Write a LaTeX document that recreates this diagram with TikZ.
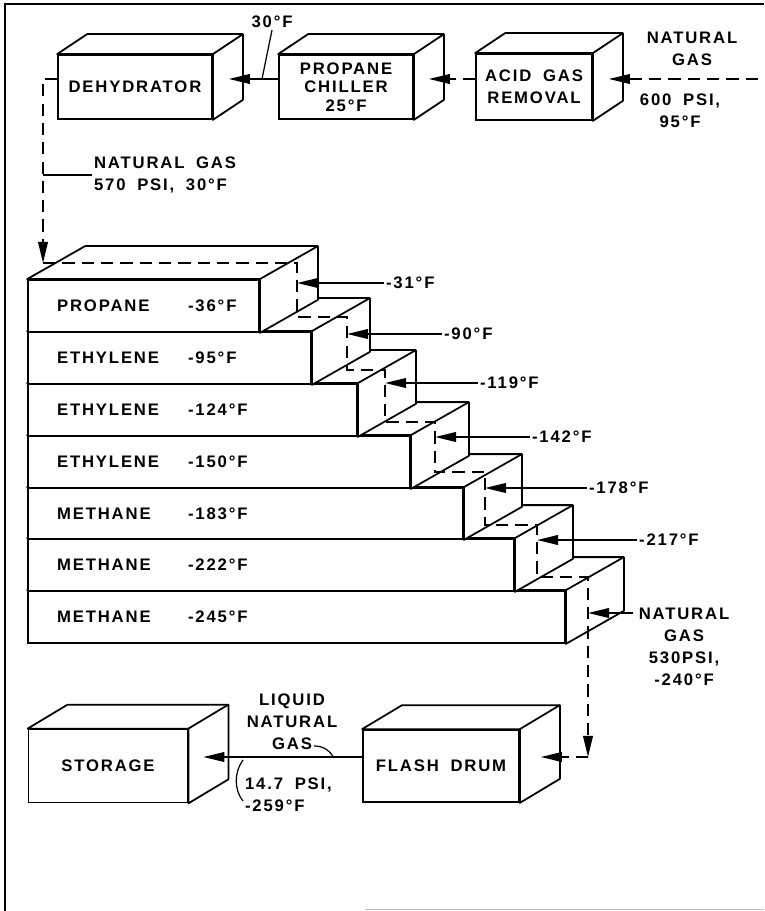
\documentclass[tikz,border=0pt]{standalone}
\usepackage{fontspec}
\setmainfont{Liberation Sans}[LetterSpace=11,WordSpace=1.8]
\usetikzlibrary{arrows.meta,positioning,calc,fit}
\newcommand{\pxu}{0.02cm}
\tikzset{
  procbox/.style 2 args={draw, fill=white, line width=1pt, inner sep=0pt, align=center,
                         minimum width=#1*\pxu, minimum height=#2*\pxu},
  slab/.style={draw, fill=white, line width=1pt, inner sep=0pt},
  face/.style={draw, fill=white, line width=1pt, line join=round},
  gasflow/.style={line width=1pt, dash pattern=on 7pt off 4pt,
                  -{Triangle[length=12pt,width=5.5pt]}},
  coolant/.style={line width=1pt, -{Triangle[length=12pt,width=5.5pt]}},
  leader/.style={line width=0.7pt},
  tag/.style={inner sep=1pt, align=left},
}
\newcommand{\boxdepth}[3]{%
  \draw[face] (#1.north west) -- ++(#2,#3) -- ($(#1.north east)+(#2,#3)$)
    -- ($(#1.south east)+(#2,#3)$) -- (#1.south east) -- (#1.north east) -- cycle;
  \draw[face, fill=none] (#1.north east) -- ++(#2,#3);
}

\begin{document}
\begin{tikzpicture}[x=0.02cm, y=-0.02cm, font=\fontsize{9.5}{12.5}\selectfont\bfseries]
  \useasboundingbox (0,0) rectangle (764,911);
  % Frame
  \draw[line width=1.6pt] (5,911) -- (5,4) -- (764,4);
  \draw[gray!50, line width=0.5pt] (365,909) -- (764,909);

  % Gas treatment
  \node[procbox={154}{64}] (dehyd) at (135,87) {DEHYDRATOR};
  \node[procbox={134}{64}] (chiller) at (346,87) {PROPANE\\[-2pt]CHILLER\\[-2pt]25°F};
  \node[procbox={116}{66}] (acid) at (534,87) {ACID GAS\\REMOVAL};
  \foreach \bx in {dehyd,chiller,acid} {\boxdepth{\bx}{30}{-20}}

  % Feed
  \coordinate (ngin) at (758,79);
  \node[tag, align=center] (ngfeed) at (692,49) {NATURAL\\GAS};
  \node[tag, align=center] (ngfeedc) at (680,111) {600 PSI,\\95°F};
  \node[tag] (t30) at (272,22) {30°F};
  \coordinate (tap30) at (262,79);
  \draw[gasflow] (ngin) -- ($(acid.east |- ngin)+(16,0)$);
  \draw[gasflow] (acid.west |- ngin) -- ($(chiller.east |- ngin)+(15,0)$);
  \draw[coolant] (chiller.west |- ngin) -- ($(dehyd.east |- ngin)+(16,0)$);
  \draw[leader] (t30.south) -- (tap30);

  % Dry gas to the cold box
  \coordinate (cbin) at (43,263);
  \draw[gasflow] (dehyd.west |- ngin) -| (cbin);
  \node[tag, anchor=west] (ng570) at (92,175) {NATURAL GAS\\570 PSI, 30°F};
  \draw[leader] (ng570.west) -- (ng570.west -| cbin);

  % Refrigeration stages
  \foreach \i/\xr/\yt/\yb/\gas/\temp in {7/565/591/643/METHANE/-245,
      6/514/539/591/METHANE/-222, 5/463/488/539/METHANE/-183,
      4/410/436/488/ETHYLENE/-150, 3/357/384/436/ETHYLENE/-124,
      2/311/332/384/ETHYLENE/-95, 1/259/280/332/PROPANE/-36} {
    \node[slab, fit={(28,\yt) (\xr,\yb)}] (st\i) {};
    \boxdepth{st\i}{58}{-33}
    \node[tag, anchor=west] (gas\i) at (55,\yt/2+\yb/2) {\gas};
    \node[tag, anchor=west] (tmp\i) at (186,\yt/2+\yb/2) {\temp°F};
  }

  % Gas path down the stages
  \foreach \x/\y [count=\k] in {297/263, 297/317, 347/317, 347/370, 385/370,
      385/422, 435/422, 435/472, 485/472, 485/525, 537/525, 537/577, 588/577}
    \coordinate (p\k) at (\x,\y);
  \coordinate (fdin) at (588,757);
  \draw[gasflow] (cbin) \foreach \k in {1,...,13} {-- (p\k)} -- (fdin);

  % Refrigerant temperatures
  \foreach \t/\y/\xs [count=\n] in {-31/283/384, -90/334/442, -119/383/478,
      -142/437/530, -178/488/587, -217/540/637} {
    \node[tag, anchor=west] (rf\n) at (\xs,\y) {\t°F};
    \pgfmathtruncatemacro{\k}{2*\n-1}
    \draw[coolant] (rf\n.west) -- (rf\n.west -| p\k);
  }

  % Cold box outlet
  \coordinate (ngout) at (633,613);
  \node[tag, align=center] (ng530) at (684,647) {NATURAL\\GAS\\530PSI,\\-240°F};
  \draw[coolant] (ngout) -- (ngout -| p13);

  % Flash drum and storage
  \node[procbox={156}{72}] (flash) at (441,766) {FLASH DRUM};
  \node[procbox={159}{73}] (storage) at (108,766) {STORAGE};
  \foreach \bx in {flash,storage} {\boxdepth{\bx}{40}{-24}}
  \draw[gasflow] (fdin) -- ($(flash.east |- fdin)+(21,0)$);
  \draw[coolant] (flash.west |- fdin) -- ($(storage.east |- fdin)+(15,0)$);

  % Product labels
  \node[tag, align=center] (lng) at (292,722) {LIQUID\\NATURAL\\GAS};
  \coordinate (lngtap) at (334,758);
  \draw[leader] ($(lng.south)+(22,-6)$) to[out=0, in=120] (lngtap);
  \node[tag, anchor=west] (lngcond) at (243,795) {14.7 PSI,\\-259°F};
  \coordinate (lngtap2) at (243,760);
  \draw[leader] (lngtap2) .. controls (234,772) and (234,790) .. ($(lngcond.west)+(0,6)$);
\end{tikzpicture}
\end{document}
